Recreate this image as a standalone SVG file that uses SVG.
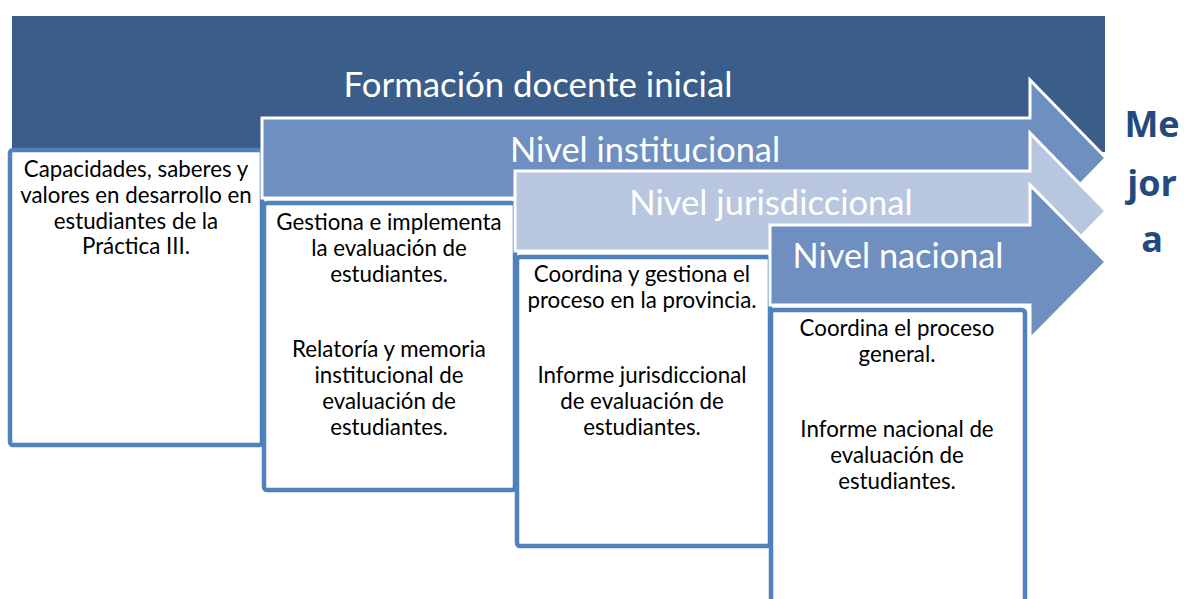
<svg xmlns="http://www.w3.org/2000/svg" width="1184" height="599" viewBox="0 0 1184 599">
<style>
.box{fill:#ffffff;stroke:#4F81BD;stroke-width:4.5}
.arr{stroke:#ffffff;stroke-width:3;stroke-linejoin:miter}
.t{font-family:Lato,"Open Sans","Noto Sans",sans-serif;font-size:22.3px;fill:#000000;text-anchor:middle}
.h{font-family:Lato,"Open Sans","Noto Sans",sans-serif;fill:#ffffff;text-anchor:middle}
.m{font-family:"Open Sans",Lato,sans-serif;font-weight:bold;font-size:36px;fill:#24497F;text-anchor:middle}
</style>
<rect width="1184" height="599" fill="#ffffff"/>
<g id="formacion">
<rect x="12" y="16" width="1093" height="136" fill="#3A5D8A"/>
<text class="h" x="538" y="97" font-size="34.8">Formación docente inicial</text>
</g>
<g id="box1">
<rect class="box" x="10" y="150" width="252" height="295" rx="3"/>
<text class="t" x="136" y="177">Capacidades, saberes y</text>
<text class="t" x="136" y="203">valores en desarrollo en</text>
<text class="t" x="136" y="229">estudiantes de la</text>
<text class="t" x="136" y="254">Práctica III.</text>
</g>
<g id="nivel-institucional">
<polygon class="arr" fill="#6F8FC0" points="262,118 1030,118 1030,80 1106,158 1030,236 1030,198 262,198"/>
<text class="h" x="645" y="162" font-size="34.4">Nivel institucional</text>
</g>
<g id="box2">
<rect class="box" x="264" y="203" width="251" height="287" rx="3"/>
<text class="t" x="389" y="230">Gestiona e implementa</text>
<text class="t" x="389" y="256">la evaluación de</text>
<text class="t" x="389" y="282">estudiantes.</text>
<text class="t" x="389" y="357">Relatoría y memoria</text>
<text class="t" x="389" y="383">institucional de</text>
<text class="t" x="389" y="409">evaluación de</text>
<text class="t" x="389" y="435">estudiantes.</text>
</g>
<g id="nivel-jurisdiccional">
<polygon class="arr" fill="#B9C6DF" points="515,171 1030,171 1030,133 1106,211 1030,289 1030,251 515,251"/>
<text class="h" x="771" y="215" font-size="34.6">Nivel jurisdiccional</text>
</g>
<g id="box3">
<rect class="box" x="517" y="257" width="253" height="289" rx="3"/>
<text class="t" x="642" y="282">Coordina y gestiona el</text>
<text class="t" x="642" y="308">proceso en la provincia.</text>
<text class="t" x="642" y="383">Informe jurisdiccional</text>
<text class="t" x="642" y="409">de evaluación de</text>
<text class="t" x="642" y="435">estudiantes.</text>
</g>
<g id="nivel-nacional">
<polygon class="arr" fill="#6F8FC0" points="770,225 1030,225 1030,185 1106,262 1030,339 1030,305 770,305"/>
<text class="h" x="898" y="268" font-size="34.3">Nivel nacional</text>
</g>
<g id="box4">
<rect class="box" x="771" y="310" width="254" height="300" rx="3"/>
<text class="t" x="897" y="336">Coordina el proceso</text>
<text class="t" x="897" y="362">general.</text>
<text class="t" x="897" y="437">Informe nacional de</text>
<text class="t" x="897" y="463">evaluación de</text>
<text class="t" x="897" y="489">estudiantes.</text>
</g>
<g id="mejora">
<text class="m" x="1152" y="137">Me</text>
<text class="m" x="1152" y="196">jor</text>
<text class="m" x="1152" y="252">a</text>
</g>
<g id="connectors"></g>
</svg>
